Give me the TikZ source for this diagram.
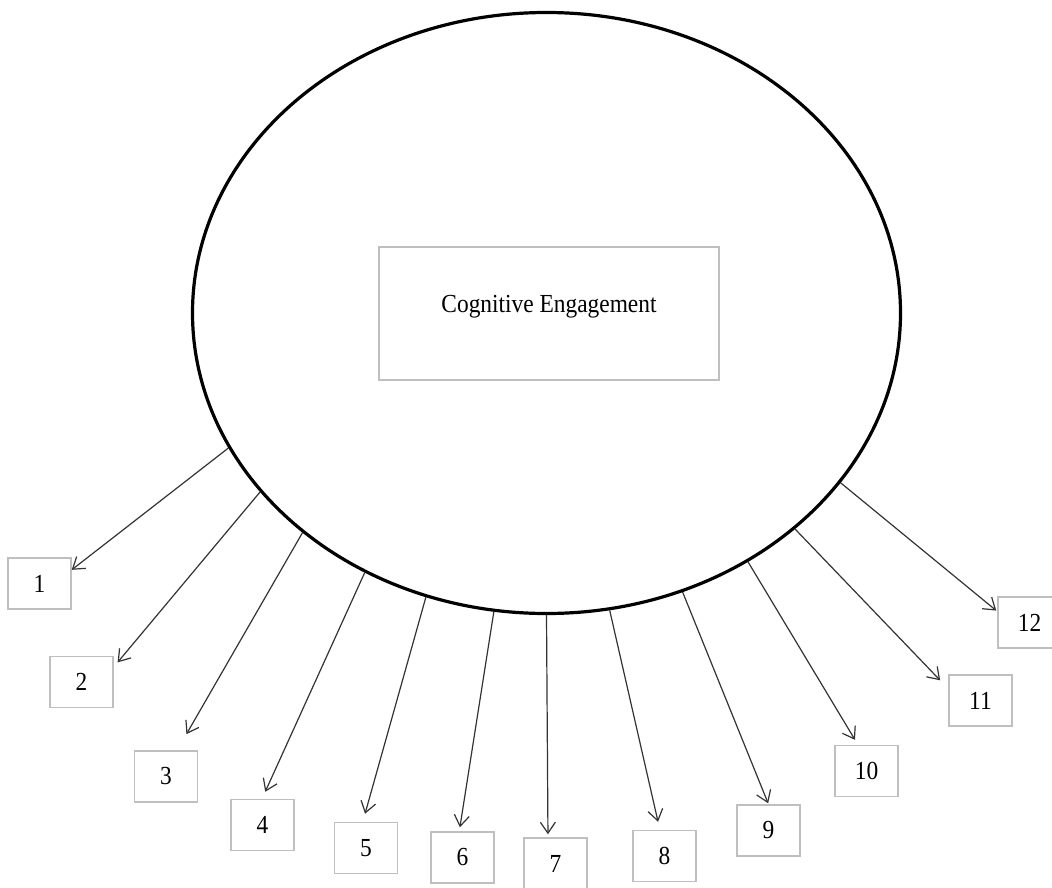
\documentclass[tikz,border=0pt]{standalone}
\usepackage{fontspec}
\setmainfont{Liberation Serif}[FakeStretch=0.9]
\usepackage{tikz}
\usetikzlibrary{shapes,arrows.meta}
\tikzstyle{numbox} = [draw=black!25, line width=1.5pt, minimum width=63pt, minimum height=51pt, inner sep=0pt, font=\fontsize{26}{30}\selectfont]
\tikzstyle{line} = [draw, -{Straight Barb[length=11pt,width=15pt]}]
\tikzset{
  line/.style ={draw, black!80, line width=1.2pt, -{Straight Barb[length=11pt,width=15pt]}}
}

\begin{document}
\begin{tikzpicture}[x=1pt,y=-1pt]
  \useasboundingbox (0,0) rectangle (1052,888);
  \node[draw, ellipse, line width=3.2pt, minimum width=708pt, minimum height=601pt, inner sep=0pt] (engage) at (546.5,313) {};
  \node[draw=black!25, line width=1.5pt, minimum width=340pt, minimum height=133pt, text height=17pt, text depth=20pt, font=\fontsize{26}{30}\selectfont] (title) at (549,313.5) {Cognitive Engagement};

  \node[numbox] (b1) at (39.5,583.5) {1};
  \node[numbox] (b2) at (81.5,682) {2};
  \node[numbox] (b3) at (166,776.5) {3};
  \node[numbox] (b4) at (262.5,825) {4};
  \node[numbox] (b5) at (366,848) {5};
  \node[numbox] (b6) at (462.5,857.5) {6};
  \node[numbox] (b7) at (555.5,863.5) {7};
  \node[numbox] (b8) at (664.5,856) {8};
  \node[numbox] (b9) at (768.5,830.5) {9};
  \node[numbox] (b10) at (866.5,771) {10};
  \node[numbox] (b11) at (980.5,700.5) {11};
  \node[numbox] (b12) at (1029.5,622.5) {12};

  \draw[line] (engage.203.6) -- (b1.23);
  \draw[line, shorten >=6pt] (engage.212.1) -- (b2.25.8);
  \draw[line, shorten >=18.6pt] (engage.222.6) -- (b3.67.4);
  \draw[line, shorten >=7.7pt] (engage.235.7) -- (b4.91.8);
  \draw[line, shorten >=8.3pt] (engage.247) -- (b5.97.3);
  \draw[line, shorten >=4pt] (engage.260.7) -- (b6.97.2);
  \draw[line, shorten >=3pt] (engage.270.3) -- (b7.106.4);
  \draw[line, shorten >=8.2pt] (engage.282.2) -- (b8.100.6);
  \draw[line, shorten >=1pt] (engage.296.5) -- (b9.90);
  \draw[line, shorten >=5.8pt] (engage.309.6) -- (b10.108.5);
  \draw[line, shorten >=11.7pt] (engage.319.6) -- (b11.160.9);
  \draw[line, shorten >=1.3pt] (engage.330.3) -- (b12.161.2);

\end{tikzpicture}
\end{document}
